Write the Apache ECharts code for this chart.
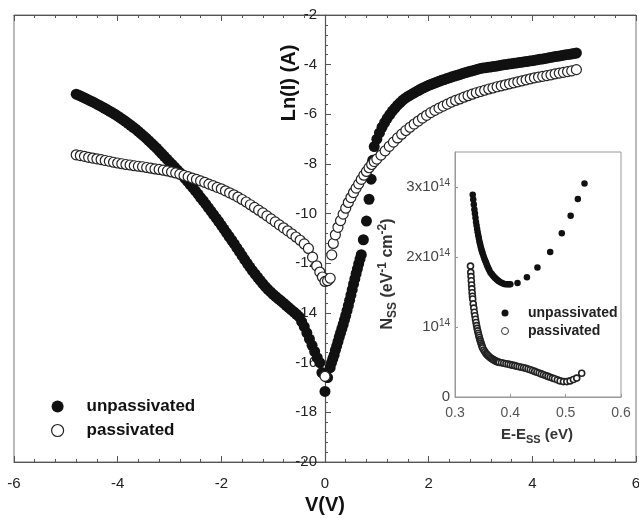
<!DOCTYPE html>
<html><head><meta charset="utf-8">
<script src="https://cdn.jsdelivr.net/npm/echarts@6/dist/echarts.min.js"></script>
<style>html,body{margin:0;padding:0;background:#fff}#c{width:639px;height:525px}</style>
</head><body><div id="c"></div>
<script>
// Main plot: [V (V), Ln(I) (A)]
const unpassivatedIV = [
[-4.8,-5.19],[-4.75,-5.23],[-4.7,-5.28],[-4.65,-5.33],[-4.6,-5.38],[-4.55,-5.43],[-4.5,-5.48],[-4.45,-5.53],[-4.4,-5.59],[-4.35,-5.64],
[-4.3,-5.70],[-4.25,-5.76],[-4.2,-5.82],[-4.15,-5.88],[-4.1,-5.94],[-4.05,-6.0],[-4.0,-6.07],[-3.95,-6.14],[-3.9,-6.21],[-3.85,-6.28],
[-3.8,-6.36],[-3.75,-6.44],[-3.7,-6.52],[-3.65,-6.6],[-3.6,-6.69],[-3.55,-6.78],[-3.5,-6.87],[-3.45,-6.96],[-3.4,-7.06],[-3.35,-7.16],
[-3.3,-7.26],[-3.25,-7.36],[-3.2,-7.47],[-3.15,-7.58],[-3.1,-7.69],[-3.05,-7.8],[-3.0,-7.91],[-2.95,-8.02],[-2.9,-8.13],[-2.85,-8.24],
[-2.8,-8.35],[-2.75,-8.46],[-2.7,-8.58],[-2.65,-8.7],[-2.6,-8.83],[-2.55,-8.95],[-2.5,-9.08],[-2.45,-9.21],[-2.4,-9.35],[-2.35,-9.48],
[-2.3,-9.62],[-2.25,-9.76],[-2.2,-9.9],[-2.15,-10.04],[-2.1,-10.18],[-2.05,-10.32],[-2.0,-10.47],[-1.95,-10.62],[-1.9,-10.77],[-1.85,-10.92],
[-1.8,-11.07],[-1.75,-11.22],[-1.7,-11.38],[-1.65,-11.53],[-1.6,-11.69],[-1.55,-11.85],[-1.5,-12.0],[-1.45,-12.15],[-1.4,-12.29],[-1.35,-12.43],
[-1.3,-12.56],[-1.25,-12.69],[-1.2,-12.82],[-1.15,-12.94],[-1.1,-13.05],[-1.05,-13.15],[-1.0,-13.25],[-0.95,-13.34],[-0.9,-13.43],[-0.85,-13.51],
[-0.8,-13.6],[-0.75,-13.69],[-0.7,-13.78],[-0.65,-13.87],[-0.6,-13.96],[-0.55,-14.05],[-0.5,-14.15],[-0.45,-14.35],[-0.4,-14.55],[-0.35,-14.8],
[-0.3,-15.05],[-0.25,-15.3],[-0.2,-15.55],[-0.15,-15.8],[-0.1,-16.0],[-0.06,-16.4],[0,-17.16],[0.05,-16.6],[0.1,-16.2],[0.125,-16.0],
[0.15,-15.85],[0.175,-15.7],[0.2,-15.5],[0.225,-15.33],[0.25,-15.15],[0.275,-14.97],[0.3,-14.8],[0.325,-14.63],[0.35,-14.46],[0.375,-14.28],
[0.4,-14.1],[0.425,-13.9],[0.45,-13.7],[0.475,-13.49],[0.5,-13.28],[0.525,-13.06],[0.55,-12.84],[0.575,-12.63],[0.6,-12.42],[0.625,-12.22],
[0.65,-12.02],[0.675,-11.83],[0.7,-11.65],[0.74,-11.05],[0.8,-10.3],[0.85,-9.42],[0.89,-8.61],[0.92,-7.85],[0.95,-7.3],[1.0,-7.0],
[1.05,-6.75],[1.1,-6.52],[1.15,-6.33],[1.2,-6.16],[1.25,-6.01],[1.3,-5.87],[1.35,-5.75],[1.4,-5.63],[1.45,-5.53],[1.5,-5.43],
[1.55,-5.35],[1.6,-5.28],[1.65,-5.22],[1.7,-5.16],[1.75,-5.1],[1.8,-5.04],[1.85,-4.98],[1.9,-4.93],[1.95,-4.88],[2.0,-4.83],
[2.05,-4.79],[2.1,-4.75],[2.15,-4.71],[2.2,-4.67],[2.25,-4.63],[2.3,-4.6],[2.35,-4.56],[2.4,-4.53],[2.45,-4.49],[2.5,-4.46],
[2.55,-4.43],[2.6,-4.4],[2.65,-4.36],[2.7,-4.33],[2.75,-4.3],[2.8,-4.27],[2.85,-4.24],[2.9,-4.21],[2.95,-4.18],[3.0,-4.15],
[3.05,-4.13],[3.1,-4.12],[3.15,-4.1],[3.2,-4.09],[3.25,-4.07],[3.3,-4.06],[3.35,-4.04],[3.4,-4.02],[3.45,-4.0],[3.5,-3.99],
[3.55,-3.97],[3.6,-3.96],[3.65,-3.94],[3.7,-3.93],[3.75,-3.91],[3.8,-3.9],[3.85,-3.88],[3.9,-3.87],[3.95,-3.85],[4.0,-3.84],
[4.05,-3.82],[4.1,-3.8],[4.15,-3.78],[4.2,-3.77],[4.25,-3.75],[4.3,-3.73],[4.35,-3.71],[4.4,-3.69],[4.45,-3.67],[4.5,-3.66],
[4.55,-3.64],[4.6,-3.62],[4.65,-3.6],[4.7,-3.59],[4.75,-3.57],[4.8,-3.55],[4.85,-3.53]
];
const passivatedIV = [
[-4.8,-7.63],[-4.72,-7.66],[-4.64,-7.69],[-4.56,-7.73],[-4.48,-7.76],[-4.4,-7.79],[-4.32,-7.82],[-4.24,-7.86],[-4.16,-7.89],[-4.08,-7.93],
[-4.0,-7.96],[-3.92,-7.99],[-3.84,-8.02],[-3.76,-8.04],[-3.68,-8.07],[-3.6,-8.09],[-3.52,-8.11],[-3.44,-8.14],[-3.36,-8.17],[-3.28,-8.2],
[-3.2,-8.22],[-3.12,-8.25],[-3.04,-8.28],[-2.96,-8.32],[-2.88,-8.36],[-2.8,-8.41],[-2.72,-8.46],[-2.64,-8.51],[-2.56,-8.57],[-2.48,-8.62],
[-2.4,-8.68],[-2.32,-8.74],[-2.24,-8.81],[-2.16,-8.87],[-2.08,-8.94],[-2.0,-9.0],[-1.92,-9.08],[-1.84,-9.16],[-1.76,-9.24],[-1.68,-9.33],
[-1.6,-9.43],[-1.52,-9.53],[-1.44,-9.64],[-1.36,-9.75],[-1.28,-9.86],[-1.2,-9.97],[-1.12,-10.09],[-1.04,-10.21],[-0.96,-10.33],[-0.88,-10.45],
[-0.8,-10.57],[-0.72,-10.69],[-0.64,-10.81],[-0.56,-10.94],[-0.48,-11.07],[-0.4,-11.22],[-0.32,-11.4],[-0.24,-11.75],[-0.16,-12.1],[-0.1,-12.35],
[-0.05,-12.55],[0,-12.73],[0,-16.55],[0.05,-12.7],[0.1,-12.6],[0.13,-11.66],[0.16,-11.2],[0.2,-10.85],[0.25,-10.55],[0.3,-10.28],
[0.35,-10.02],[0.4,-9.78],[0.45,-9.55],[0.5,-9.35],[0.55,-9.15],[0.6,-8.97],[0.65,-8.8],[0.7,-8.62],[0.75,-8.45],[0.8,-8.3],
[0.85,-8.15],[0.9,-8.02],[0.95,-7.9],[1.0,-7.8],[1.08,-7.64],[1.16,-7.47],[1.24,-7.29],[1.32,-7.12],[1.4,-6.95],[1.48,-6.8],
[1.56,-6.65],[1.64,-6.52],[1.72,-6.39],[1.8,-6.27],[1.88,-6.15],[1.96,-6.04],[2.04,-5.93],[2.12,-5.84],[2.2,-5.75],[2.28,-5.67],
[2.36,-5.59],[2.44,-5.51],[2.52,-5.44],[2.6,-5.38],[2.68,-5.31],[2.76,-5.25],[2.84,-5.19],[2.92,-5.13],[3.0,-5.08],[3.08,-5.03],
[3.16,-4.98],[3.24,-4.94],[3.32,-4.89],[3.4,-4.85],[3.48,-4.81],[3.56,-4.77],[3.64,-4.73],[3.72,-4.69],[3.8,-4.65],[3.88,-4.61],
[3.96,-4.57],[4.04,-4.53],[4.12,-4.5],[4.2,-4.47],[4.28,-4.44],[4.36,-4.41],[4.44,-4.37],[4.52,-4.34],[4.6,-4.31],[4.68,-4.28],
[4.76,-4.25],[4.85,-4.2]
];
// Inset: [E-Ess (eV), Nss (units of 1e14 eV^-1 cm^-2)]
const insetUnpassivated = [
[0.332,2.89],[0.333,2.82],[0.334,2.75],[0.335,2.68],[0.336,2.62],[0.337,2.56],[0.338,2.50],[0.339,2.45],[0.340,2.40],[0.341,2.355],
[0.342,2.31],[0.343,2.27],[0.344,2.23],[0.345,2.195],[0.346,2.16],[0.347,2.13],[0.348,2.10],[0.349,2.075],[0.350,2.05],[0.3515,2.015],
[0.353,1.98],[0.3545,1.95],[0.356,1.92],[0.3575,1.89],[0.359,1.86],[0.3605,1.835],[0.362,1.81],[0.364,1.78],[0.366,1.76],[0.368,1.74],
[0.370,1.72],[0.372,1.705],[0.374,1.69],[0.376,1.675],[0.378,1.66],[0.380,1.65],[0.383,1.635],[0.386,1.625],[0.389,1.615],[0.392,1.61],
[0.395,1.61],[0.398,1.61],[0.400,1.61],
[0.413,1.63],[0.430,1.71],[0.449,1.85],[0.472,2.07],[0.493,2.34],[0.509,2.59],[0.522,2.83],[0.534,3.05]
];
const insetPassivated = [
[0.328,1.87],[0.3285,1.78],[0.329,1.72],[0.3295,1.66],[0.330,1.60],[0.3305,1.545],[0.331,1.49],[0.3315,1.44],[0.332,1.40],[0.333,1.33],
[0.334,1.27],[0.335,1.21],[0.336,1.16],[0.337,1.11],[0.338,1.065],[0.339,1.02],[0.340,0.98],[0.341,0.945],[0.342,0.91],[0.343,0.88],
[0.344,0.85],[0.345,0.82],[0.346,0.795],[0.347,0.77],[0.348,0.745],[0.349,0.72],[0.350,0.70],[0.352,0.67],[0.354,0.645],[0.356,0.62],
[0.358,0.605],[0.360,0.59],[0.362,0.575],[0.364,0.56],[0.366,0.55],[0.368,0.54],[0.370,0.53],[0.372,0.52],[0.374,0.512],[0.376,0.505],
[0.378,0.5],[0.380,0.495],[0.384,0.489],[0.388,0.482],[0.392,0.476],[0.396,0.47],[0.400,0.462],[0.404,0.455],[0.408,0.448],[0.412,0.44],
[0.416,0.432],[0.420,0.424],[0.424,0.417],[0.428,0.41],[0.432,0.4],[0.436,0.39],[0.440,0.378],[0.444,0.366],[0.448,0.354],[0.452,0.342],
[0.456,0.33],[0.460,0.318],[0.464,0.306],[0.468,0.294],[0.472,0.282],[0.476,0.27],[0.480,0.26],[0.485,0.245],[0.490,0.23],[0.496,0.22],
[0.502,0.22],[0.508,0.23],[0.514,0.25],[0.520,0.27],[0.529,0.34]
];
const seriesNames = ['unpassivated', 'passivated'];

const FONT = '"Liberation Sans", Arial, Helvetica, sans-serif';
const AX = '#555';
const chart = echarts.init(document.getElementById('c'), null, {renderer: 'canvas'});

function mainX(pos, showLabel) {
  return {
    gridIndex: 0, type: 'value', min: -6, max: 6, interval: 2, position: pos,
    axisLine: {onZero: false, lineStyle: {color: AX, width: 1.2}},
    axisTick: {inside: true, length: 6, lineStyle: {color: AX}},
    minorTick: {show: true, splitNumber: 5, length: 3, lineStyle: {color: AX}},
    splitLine: {show: false},
    axisLabel: {show: showLabel, fontSize: 15, color: '#222', margin: 14, fontFamily: FONT}
  };
}
const xMain = mainX('bottom', true);
xMain.name = 'V(V)';
xMain.nameLocation = 'middle';
xMain.nameGap = 32;
xMain.nameTextStyle = {fontSize: 20, fontWeight: 'bold', color: '#111', fontFamily: FONT};

const supRich = {sup: {fontSize: 10, verticalAlign: 'top', lineHeight: 10, color: '#444', fontFamily: FONT}};

// main grid: V=0 sits in the middle of the grid width
const GRID_LEFT = 14, GRID_RIGHT = 3, CANVAS_W = 639;
const zeroOffset = -((CANVAS_W - GRID_LEFT - GRID_RIGHT) / 2);

const option = {
  animation: false,
  backgroundColor: '#fff',
  textStyle: {fontFamily: FONT},
  grid: [
    {left: GRID_LEFT, right: GRID_RIGHT, top: 15, bottom: 63, show: true, borderColor: '#777', borderWidth: 1,
     containLabel: false, outerBoundsMode: 'none'},
    {left: 455, right: 18, top: 152, bottom: 128, show: true, borderColor: '#999', borderWidth: 1, backgroundColor: '#fff',
     containLabel: false, outerBoundsMode: 'none'}
  ],
  xAxis: [
    xMain,
    mainX('top', false),
    {
      gridIndex: 1, type: 'value', min: 0.3, max: 0.6, interval: 0.1,
      axisLine: {onZero: false, lineStyle: {color: '#999'}},
      axisTick: {inside: true, length: 3, lineStyle: {color: '#999'}},
      splitLine: {show: false},
      axisLabel: {fontSize: 14, color: '#555', margin: 9, fontFamily: FONT, formatter: v => v.toFixed(1)}
    }
  ],
  yAxis: [
    {
      gridIndex: 0, type: 'value', min: -20, max: -2, interval: 2, position: 'left', offset: zeroOffset,
      axisLine: {onZero: false, lineStyle: {color: AX, width: 1.2}},
      axisTick: {inside: true, length: 6, lineStyle: {color: AX}},
      minorTick: {show: true, splitNumber: 5, length: 3, lineStyle: {color: AX}},
      splitLine: {show: false},
      axisLabel: {fontSize: 15, color: '#222', margin: 8, fontFamily: FONT}
    },
    {
      gridIndex: 1, type: 'value', min: 0, max: 3.5, interval: 1,
      axisLine: {onZero: false, lineStyle: {color: '#999'}},
      axisTick: {inside: true, length: 3, lineStyle: {color: '#999'}},
      splitLine: {show: false},
      axisLabel: {
        fontSize: 15, color: '#444', margin: 5, lineHeight: 18, fontFamily: FONT, showMaxLabel: false,
        formatter: function (v) {
          if (Math.abs(v - Math.round(v)) > 1e-6) return '';
          if (v === 0) return '0';
          if (v === 1) return '10{sup|14}';
          return Math.round(v) + 'x10{sup|14}';
        },
        rich: supRich
      }
    }
  ],
  legend: [
    {
      left: 46, top: 393, orient: 'vertical', itemWidth: 48, itemHeight: 12, itemGap: 7, selectedMode: false,
      textStyle: {fontSize: 17, fontWeight: 'bold', color: '#111', fontFamily: FONT},
      data: [
        {name: seriesNames[0], itemStyle: {color: '#111'}},
        {name: seriesNames[1], itemStyle: {color: '#fff', borderColor: '#222', borderWidth: 1.2}}
      ]
    },
    {
      left: 496, top: 301, orient: 'vertical', itemWidth: 36, itemHeight: 7, itemGap: 4, selectedMode: false,
      textStyle: {fontSize: 14, fontWeight: 'bold', color: '#222', fontFamily: FONT},
      data: [
        {name: seriesNames[0], itemStyle: {color: '#111'}},
        {name: seriesNames[1], itemStyle: {color: '#fff', borderColor: '#333', borderWidth: 1}}
      ]
    }
  ],
  graphic: [
    {
      type: 'text', x: 289, y: 83, rotation: Math.PI / 2,
      style: {text: 'Ln(I) (A)', fontSize: 20, fontWeight: 'bold', fontFamily: FONT, fill: '#111', align: 'center', verticalAlign: 'middle'}
    },
    {
      type: 'text', x: 388, y: 274, rotation: Math.PI / 2,
      style: {
        text: 'N{sub|SS} (eV{sup|-1} cm{sup|-2})', fontSize: 16, fontWeight: 'bold', fontFamily: FONT, fill: '#333',
        align: 'center', verticalAlign: 'middle', lineHeight: 22,
        rich: {
          sub: {fontSize: 12, fontWeight: 'bold', verticalAlign: 'bottom', lineHeight: 12},
          sup: {fontSize: 12, fontWeight: 'bold', verticalAlign: 'top', lineHeight: 12}
        }
      }
    },
    {
      type: 'text', x: 537, y: 435,
      style: {
        text: 'E-E{sub|SS} (eV)', fontSize: 15, fontWeight: 'bold', fontFamily: FONT, fill: '#333',
        align: 'center', verticalAlign: 'middle', lineHeight: 20,
        rich: {sub: {fontSize: 11, fontWeight: 'bold', verticalAlign: 'bottom', lineHeight: 11}}
      }
    }
  ],
  series: [
    {type: 'scatter', name: seriesNames[0], xAxisIndex: 0, yAxisIndex: 0, data: unpassivatedIV,
     symbolSize: 11, itemStyle: {color: '#111', opacity: 1}},
    {type: 'scatter', name: seriesNames[1], xAxisIndex: 0, yAxisIndex: 0, data: passivatedIV,
     symbolSize: 10, itemStyle: {color: '#fff', borderColor: '#222', borderWidth: 1.2, opacity: 1}},
    {type: 'scatter', name: seriesNames[0], xAxisIndex: 2, yAxisIndex: 1, data: insetUnpassivated,
     symbolSize: 6.5, itemStyle: {color: '#111', opacity: 1}},
    {type: 'scatter', name: seriesNames[1], xAxisIndex: 2, yAxisIndex: 1, data: insetPassivated,
     symbolSize: 6, itemStyle: {color: '#fff', borderColor: '#222', borderWidth: 1.6, opacity: 1}}
  ]
};
chart.setOption(option);
</script>
</body></html>
